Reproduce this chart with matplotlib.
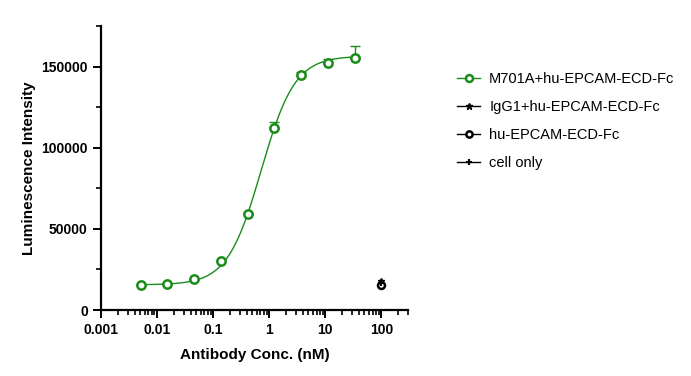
import numpy as np
import matplotlib.pyplot as plt
from matplotlib.ticker import LogLocator, FixedLocator, MultipleLocator, FuncFormatter

plt.rcParams['font.family'] = ['Liberation Sans', 'DejaVu Sans']

# M701A+hu-EPCAM-ECD-Fc, 3-fold dilution series (nM)
conc = [0.00508, 0.01524, 0.0457, 0.1372, 0.4115, 1.235, 3.704, 11.11, 33.33]
signal = [15400, 16000, 19000, 30000, 59000, 112000, 144500, 152500, 155000]
err_up = [300, 300, 400, 500, 600, 4000, 2000, 2000, 7500]

# controls, plotted at 100 nM
ctrl_x = [100]
igg1 = [18000]
ecd_only = [15200]
cell_only = [16800]

# fitted 4PL parameters
fit_bottom, fit_top, fit_ec50, fit_hill = 15500, 156500, 0.72, 1.44

green = '#1a8c1a'

fig = plt.figure(figsize=(6.91, 3.76), dpi=100)
ax = fig.add_axes([101 / 691, 1 - 310 / 376, 307 / 691, 284 / 376])

xf = np.logspace(np.log10(conc[0]), np.log10(conc[-1]), 300)
yf = fit_bottom + (fit_top - fit_bottom) / (1 + (fit_ec50 / xf) ** fit_hill)
ax.plot(xf, yf, color=green, lw=1, zorder=2)

ax.errorbar(conc, signal, yerr=[[0] * len(err_up), err_up], fmt='none',
            ecolor=green, elinewidth=1, capsize=3.5, capthick=1, zorder=2)
ax.plot(conc, signal, 'o', ms=6, mfc='white', mec=green, mew=1.8, zorder=3)

ax.plot(ctrl_x, igg1, '*', ms=5, color='black', zorder=3)
ax.plot(ctrl_x, ecd_only, 'o', ms=5, mfc='white', mec='black', mew=1.8, zorder=3)
ax.plot(ctrl_x, cell_only, '+', ms=5, color='black', mew=1.5, zorder=3)

# legend handles
h1, = ax.plot([], [], '-o', color=green, lw=1, ms=5, mfc='white', mec=green, mew=1.8)
h2, = ax.plot([], [], '-*', color='black', lw=1, ms=5)
h3, = ax.plot([], [], '-o', color='black', lw=1, ms=4.5, mfc='white', mec='black', mew=1.8)
h4, = ax.plot([], [], '-+', color='black', lw=1, ms=5, mew=1.5)
leg = fig.legend([h1, h2, h3, h4],
                 ['M701A+hu-EPCAM-ECD-Fc', 'IgG1+hu-EPCAM-ECD-Fc', 'hu-EPCAM-ECD-Fc', 'cell only'],
                 loc='upper left', bbox_to_anchor=(444 / 691, 1 - 59 / 376), frameon=False,
                 fontsize=10.5, handlelength=1.6, handletextpad=0.6, labelspacing=0.95)

ax.set_xscale('log')
ax.set_xlim(0.001, 300)
ax.set_ylim(0, 175000)
ax.xaxis.set_major_locator(FixedLocator([0.001, 0.01, 0.1, 1, 10, 100]))
ax.xaxis.set_minor_locator(LogLocator(base=10, subs=np.arange(2, 10), numticks=20))
ax.xaxis.set_major_formatter(FuncFormatter(lambda v, p: f'{v:g}'))
ax.yaxis.set_major_locator(FixedLocator([0, 50000, 100000, 150000]))
ax.yaxis.set_minor_locator(MultipleLocator(25000))

for s in ['top', 'right']:
    ax.spines[s].set_visible(False)
for s in ['left', 'bottom']:
    ax.spines[s].set_linewidth(1.6)

ax.tick_params(which='major', length=6, width=1.4, labelsize=10)
ax.tick_params(which='minor', length=3.5, width=1.2)
for lbl in ax.get_xticklabels() + ax.get_yticklabels():
    lbl.set_fontweight('bold')

ax.set_xlabel('Antibody Conc. (nM)', fontsize=11, fontweight='bold', labelpad=8)
ax.set_ylabel('Luminescence Intensity', fontsize=11, fontweight='bold', labelpad=4)

fig.savefig('out.png', dpi=100)
